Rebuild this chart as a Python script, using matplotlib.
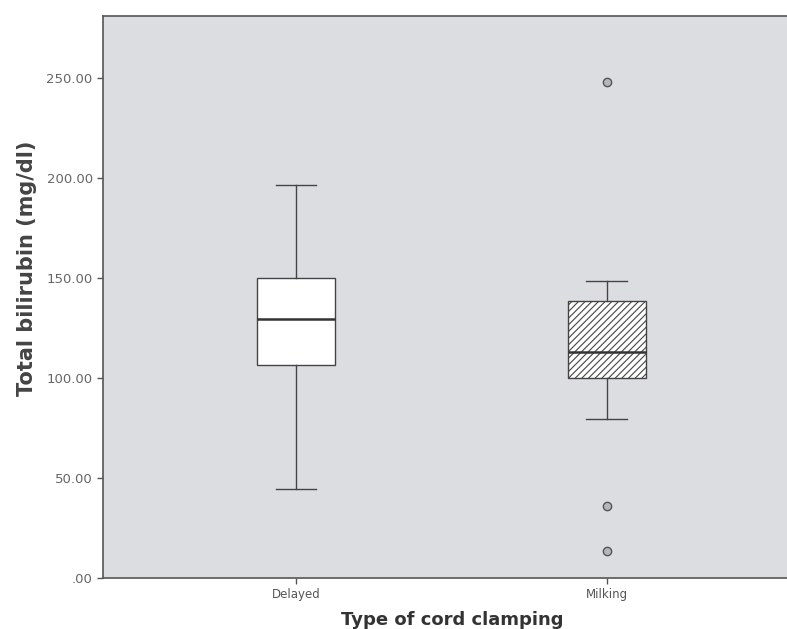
import matplotlib
matplotlib.use("Agg")
import matplotlib.pyplot as plt

categories = ["Delayed", "Milking"]
whislo = [44.5, 79.5]
q1 = [106.5, 100.0]
med = [129.5, 113.0]
q3 = [150.0, 138.5]
whishi = [196.5, 148.5]
outliers = [[], [248.0, 36.0, 13.5]]
yticks = [0, 50, 100, 150, 200, 250]
ytick_labels = [".00", "50.00", "100.00", "150.00", "200.00", "250.00"]

plt.rcParams["hatch.color"] = "#555555"
plt.rcParams["hatch.linewidth"] = 0.8

fig = plt.figure(figsize=(7.87, 6.29), dpi=100)
fig.patch.set_facecolor("white")
ax = fig.add_axes([0.131, 0.081, 0.869, 0.894])
ax.set_facecolor("#dcdde1")

stats = []
for i, c in enumerate(categories):
    stats.append(dict(label=c, whislo=whislo[i], q1=q1[i], med=med[i], q3=q3[i],
                      whishi=whishi[i], fliers=outliers[i]))

bp = ax.bxp(stats, positions=[0, 1], widths=0.25, patch_artist=True,
            showfliers=True,
            boxprops=dict(facecolor="white", edgecolor="#444444", linewidth=1.0),
            medianprops=dict(color="#333333", linewidth=1.8),
            whiskerprops=dict(color="#444444", linewidth=1.0),
            capprops=dict(color="#444444", linewidth=1.0),
            capwidths=0.13,
            flierprops=dict(marker="o", markersize=6, markerfacecolor="#b5b6ba",
                            markeredgecolor="#555555", markeredgewidth=1.0))
bp["boxes"][1].set_hatch("/////")

ax.set_xlim(-0.62, 1.58)
ax.set_ylim(0, 281)
ax.set_yticks(yticks)
ax.set_yticklabels(ytick_labels, fontsize=9.5, color="#666666")
ax.set_xticks([0, 1])
ax.set_xticklabels(categories, fontsize=8.5, color="#555555")
ax.tick_params(axis="both", direction="out", length=4, color="#555555", width=1)

for s in ["left", "bottom", "top"]:
    ax.spines[s].set_color("#555555")
    ax.spines[s].set_linewidth(1.2)
ax.spines["right"].set_visible(False)

ax.set_ylabel("Total bilirubin (mg/dl)", fontsize=15, fontweight="bold", color="#444444")
ax.yaxis.set_label_coords(-0.097, 0.55)
ax.set_xlabel("Type of cord clamping", fontsize=13, fontweight="bold", color="#333333")
ax.xaxis.set_label_coords(0.51, -0.058)

fig.savefig("out.png", dpi=100)
